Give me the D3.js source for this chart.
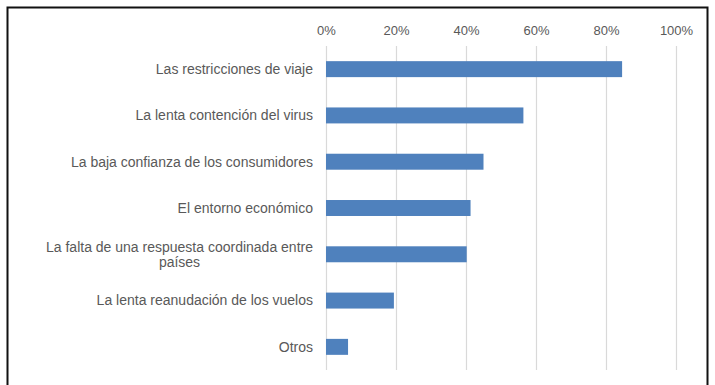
<!DOCTYPE html>
<html>
<head>
<meta charset="utf-8">
<script src="https://cdn.jsdelivr.net/npm/d3@7"></script>
<style>
  html, body { margin: 0; padding: 0; background: #fff; }
  svg { display: block; }
  text { font-family: "Liberation Sans", Arial, sans-serif; }
</style>
</head>
<body>
<svg id="chart" width="715" height="385"></svg>
<script>
// Factores que frenan la recuperación (porcentaje de respuestas)
const categories = [
  "Las restricciones de viaje",
  "La lenta contención del virus",
  "La baja confianza de los consumidores",
  "El entorno económico",
  "La falta de una respuesta coordinada entre países",
  "La lenta reanudación de los vuelos",
  "Otros"
];
const values = [0.846, 0.564, 0.45, 0.413, 0.402, 0.194, 0.063];
const tickValues = [0, 0.2, 0.4, 0.6, 0.8, 1.0];
const tickLabels = ["0%", "20%", "40%", "60%", "80%", "100%"];

// Line breaks for long category names
const labelLines = {
  "La falta de una respuesta coordinada entre países": ["La falta de una respuesta coordinada entre", "países"]
};

const svg = d3.select("#chart");

// Outer frame
svg.append("rect")
  .attr("x", 7.5).attr("y", 7.5)
  .attr("width", 700).attr("height", 390)
  .attr("fill", "#fff")
  .attr("stroke", "#111").attr("stroke-width", 2);

const plot = { left: 326, right: 676, top: 46, bottom: 370 };

const x = d3.scaleLinear().domain([0, 1]).range([plot.left, plot.right]);
const y = d3.scaleBand().domain(categories)
  .range([plot.top, plot.bottom])
  .paddingInner(0.655).paddingOuter(0.3275);

// Vertical gridlines
svg.append("g").selectAll("line")
  .data(tickValues)
  .join("line")
  .attr("x1", d => Math.round(x(d)) + 0.5)
  .attr("x2", d => Math.round(x(d)) + 0.5)
  .attr("y1", plot.top).attr("y2", plot.bottom)
  .attr("stroke", "#d9d9d9").attr("stroke-width", 1.2);

// Top axis labels
const axis = d3.axisTop(x)
  .tickValues(tickValues)
  .tickFormat((d, i) => tickLabels[i])
  .tickSize(0).tickPadding(0);
const gAxis = svg.append("g").attr("transform", "translate(0,35)").call(axis);
gAxis.select(".domain").remove();
gAxis.selectAll("text")
  .attr("fill", "#595959")
  .style("font-size", "13px")
  .style("font-family", "'Liberation Sans', Arial, sans-serif");

// Bars
svg.append("g").selectAll("rect")
  .data(values)
  .join("rect")
  .attr("x", x(0))
  .attr("y", (d, i) => y(categories[i]))
  .attr("width", d => x(d) - x(0))
  .attr("height", y.bandwidth())
  .attr("fill", "#4f81bd");

// Category labels
const fs = 14;
const labels = svg.append("g").selectAll("text")
  .data(categories)
  .join("text")
  .attr("fill", "#595959")
  .style("font-size", fs + "px")
  .attr("y", d => y(d) + y.bandwidth() / 2);

labels.each(function (d) {
  const t = d3.select(this);
  const lines = labelLines[d];
  if (!lines) {
    t.attr("x", 313).attr("text-anchor", "end").attr("dy", "0.35em").text(d);
  } else {
    // Multi-line labels are centred on their widest line, right-aligned to the axis
    t.attr("text-anchor", "middle");
    const tmp = t.append("tspan").text(lines[0]);
    const wMax = tmp.node().getComputedTextLength();
    tmp.remove();
    const cx = 313 - wMax / 2;
    const lh = 15;
    lines.forEach((ln, k) => {
      t.append("tspan")
        .attr("x", cx)
        .attr("dy", k === 0 ? (0.35 * fs - lh * (lines.length - 1) / 2) + "px" : lh + "px")
        .text(ln);
    });
  }
});
</script>
</body>
</html>
